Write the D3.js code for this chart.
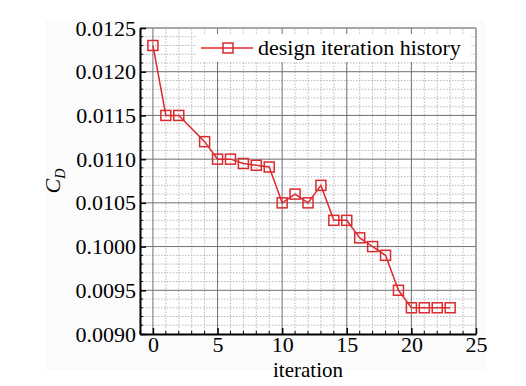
<!DOCTYPE html>
<html>
<head>
<meta charset="utf-8">
<script src="https://cdn.jsdelivr.net/npm/d3@7"></script>
<style>
  body { margin: 0; background: #fff; }
  svg { display: block; font-family: "Liberation Serif", "Times New Roman", serif; }
</style>
</head>
<body>
<div id="chart"></div>
<script>
// design iteration history
const iterations = [0, 1, 2, 4, 5, 6, 7, 8, 9, 10, 11, 12, 13, 14, 15, 16, 17, 18, 19, 20, 21, 22, 23];
const cdValues = [0.0123, 0.0115, 0.0115, 0.0112, 0.0110, 0.0110, 0.01095, 0.01093, 0.01091,
  0.0105, 0.0106, 0.0105, 0.0107, 0.0103, 0.0103, 0.0101, 0.0100, 0.0099, 0.0095,
  0.0093, 0.0093, 0.0093, 0.0093];

const xTicks = [0, 5, 10, 15, 20, 25];
const yTicks = [0.0090, 0.0095, 0.0100, 0.0105, 0.0110, 0.0115, 0.0120, 0.0125];
// labels as printed in the figure (incl. the "0.1000" one)
const yTickLabels = ['0.0090', '0.0095', '0.1000', '0.0105', '0.0110', '0.0115', '0.0120', '0.0125'];

const W = 526, H = 386;
const margin = { left: 140, top: 28, right: 50, bottom: 52 };
const red = '#dc2a2e';

const svg = d3.select('#chart').append('svg')
  .attr('width', W)
  .attr('height', H);

svg.append('rect')
  .attr('x', 45).attr('y', 20)
  .attr('width', 440).attr('height', 350)
  .attr('fill', '#fbfbfb');

const x = d3.scaleLinear().domain([-1, 25]).range([margin.left, W - margin.right]);
const y = d3.scaleLinear().domain([0.0090, 0.0125]).range([H - margin.bottom, margin.top]);

const [x0, x1] = x.range();
const [y0, y1] = y.range();

svg.append('rect')
  .attr('x', x0).attr('y', y1)
  .attr('width', x1 - x0).attr('height', y0 - y1)
  .attr('fill', '#fff');

// minor grid
const grid = svg.append('g');
const xMinor = d3.range(-1, 26, 1).filter(v => v % 5 !== 0);
const yMinor = d3.range(90, 126, 1).filter(v => v % 5 !== 0).map(v => v / 10000);

grid.selectAll('.xm').data(xMinor).join('line')
  .attr('x1', d => x(d)).attr('x2', d => x(d))
  .attr('y1', y0).attr('y2', y1)
  .attr('stroke', '#b8b8b8').attr('stroke-dasharray', '1.5,1.5');
grid.selectAll('.ym').data(yMinor).join('line')
  .attr('x1', x0).attr('x2', x1)
  .attr('y1', d => y(d)).attr('y2', d => y(d))
  .attr('stroke', '#b8b8b8').attr('stroke-dasharray', '1.5,1.5');

// major grid
grid.selectAll('.xM').data(xTicks.slice(0, -1)).join('line')
  .attr('x1', d => x(d)).attr('x2', d => x(d))
  .attr('y1', y0).attr('y2', y1)
  .attr('stroke', '#6f6f6f').attr('stroke-width', 1);
grid.selectAll('.yM').data(yTicks.slice(1, -1)).join('line')
  .attr('x1', x0).attr('x2', x1)
  .attr('y1', d => y(d)).attr('y2', d => y(d))
  .attr('stroke', '#6f6f6f').attr('stroke-width', 1);

// frame: top and right grey
svg.append('line').attr('x1', x0).attr('x2', x1).attr('y1', y1).attr('y2', y1)
  .attr('stroke', '#8a8a8a').attr('stroke-width', 1.5);
svg.append('line').attr('x1', x1).attr('x2', x1).attr('y1', y0).attr('y2', y1)
  .attr('stroke', '#8a8a8a').attr('stroke-width', 1.5);

// axes (ticks inward)
const xAxis = d3.axisBottom(x).tickValues(xTicks).tickSizeInner(-6).tickSizeOuter(0).tickPadding(2);
const yAxis = d3.axisLeft(y).tickValues(yTicks).tickSizeInner(-6).tickSizeOuter(0).tickPadding(4)
  .tickFormat((d, i) => yTickLabels[i]);

const gx = svg.append('g').attr('transform', `translate(0,${y0})`).call(xAxis);
const gy = svg.append('g').attr('transform', `translate(${x0},0)`).call(yAxis);

[gx, gy].forEach(g => {
  g.attr('font-family', '"Liberation Serif", serif').attr('font-size', 22);
  g.select('.domain').attr('stroke', '#000').attr('stroke-width', 2);
  g.selectAll('.tick line').attr('stroke', '#000').attr('stroke-width', 1.5);
  g.selectAll('text').attr('fill', '#000');
});

// minor ticks
svg.append('g').selectAll('line').data(xMinor).join('line')
  .attr('x1', d => x(d)).attr('x2', d => x(d))
  .attr('y1', y0).attr('y2', y0 - 3)
  .attr('stroke', '#000').attr('stroke-width', 1);
svg.append('g').selectAll('line').data(yMinor).join('line')
  .attr('x1', x0).attr('x2', x0 + 3)
  .attr('y1', d => y(d)).attr('y2', d => y(d))
  .attr('stroke', '#000').attr('stroke-width', 1);

// legend
const legend = svg.append('g');
legend.append('rect')
  .attr('x', 196).attr('y', 34).attr('width', 275).attr('height', 28)
  .attr('fill', '#fff');
legend.append('line')
  .attr('x1', 201).attr('x2', 253).attr('y1', 48).attr('y2', 48)
  .attr('stroke', red).attr('stroke-width', 1.5);
legend.append('rect')
  .attr('x', 223).attr('y', 43).attr('width', 10).attr('height', 10)
  .attr('fill', 'none').attr('stroke', red).attr('stroke-width', 1.5);
legend.append('text')
  .attr('x', 258).attr('y', 55)
  .attr('font-size', 22)
  .text('design iteration history');

// series
const pts = iterations.map((it, i) => [it, cdValues[i]]);
svg.append('path')
  .datum(pts)
  .attr('fill', 'none')
  .attr('stroke', red)
  .attr('stroke-width', 1.5)
  .attr('d', d3.line().x(d => x(d[0])).y(d => y(d[1])));

svg.append('g').selectAll('rect').data(pts).join('rect')
  .attr('x', d => x(d[0]) - 5).attr('y', d => y(d[1]) - 5)
  .attr('width', 10).attr('height', 10)
  .attr('fill', 'none')
  .attr('stroke', red)
  .attr('stroke-width', 1.5);

// axis titles
svg.append('text')
  .attr('x', (x0 + x1) / 2).attr('y', 377)
  .attr('text-anchor', 'middle')
  .attr('font-size', 21)
  .text('iteration');

const yl = svg.append('text')
  .attr('transform', `translate(60,${(y0 + y1) / 2}) rotate(-90)`)
  .attr('text-anchor', 'middle')
  .attr('font-size', 22)
  .attr('font-style', 'italic');
yl.append('tspan').text('C');
yl.append('tspan').attr('font-size', 14).attr('dy', 5).text('D');
</script>
</body>
</html>
